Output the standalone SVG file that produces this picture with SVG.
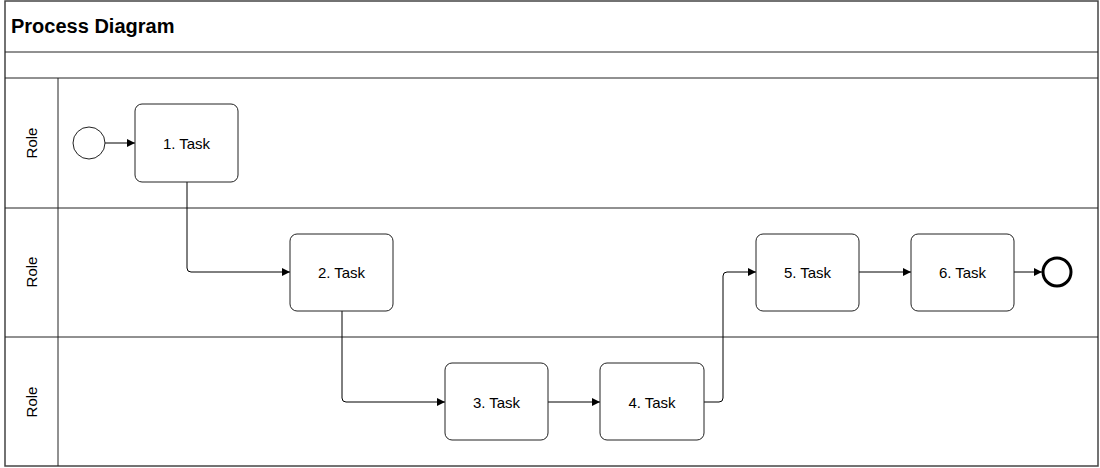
<svg xmlns="http://www.w3.org/2000/svg" width="1100" height="468" viewBox="0 0 1100 468">
<style>
.frame{fill:none;stroke:#222;stroke-width:1}
.outer{fill:#fff;stroke:#444;stroke-width:1.5}
.task{fill:#fff;stroke:#222;stroke-width:1}
.lbl{font-family:Arial,"Liberation Sans",sans-serif;font-size:15px;fill:#000;text-anchor:middle;dominant-baseline:central}
.conn{fill:none;stroke:#000;stroke-width:1;marker-end:url(#arr)}
</style>
<defs>
<marker id="arr" viewBox="0 0 10 10" refX="10" refY="5" markerWidth="8" markerHeight="8" markerUnits="userSpaceOnUse" orient="auto">
<path d="M0,0 L10,5 L0,10 z" fill="#000"/>
</marker>
</defs>
<rect width="1100" height="468" fill="#fff"/>
<g id="pool">
<rect class="outer" x="5" y="1" width="1093" height="465"/>
<line class="frame" x1="5" y1="52" x2="1098" y2="52"/>
<line class="frame" x1="5" y1="78" x2="1098" y2="78"/>
<line class="frame" x1="5" y1="208" x2="1098" y2="208"/>
<line class="frame" x1="5" y1="337" x2="1098" y2="337"/>
<line class="frame" x1="58" y1="78" x2="58" y2="466"/>
<text x="11" y="26" font-family="Arial,'Liberation Sans',sans-serif" font-size="20" font-weight="bold" dominant-baseline="central">Process Diagram</text>
</g>
<g id="lane1"><text class="lbl" transform="translate(31,143) rotate(-90)" x="0" y="0">Role</text></g>
<g id="lane2"><text class="lbl" transform="translate(31,272) rotate(-90)" x="0" y="0">Role</text></g>
<g id="lane3"><text class="lbl" transform="translate(31,402) rotate(-90)" x="0" y="0">Role</text></g>
<g id="connectors">
<path class="conn" d="M105,143 H135"/>
<path class="conn" d="M187,182 V268 Q187,272 191,272 H290"/>
<path class="conn" d="M342,311 V398 Q342,402 346,402 H445"/>
<path class="conn" d="M548,402 H600"/>
<path class="conn" d="M704,402 H719 Q723,402 723,398 V276 Q723,272 727,272 H756"/>
<path class="conn" d="M859,272 H911"/>
<path class="conn" d="M1014,272 H1042"/>
</g>
<g id="start"><circle cx="89" cy="143" r="16" fill="#fff" stroke="#222" stroke-width="1"/></g>
<g id="task1"><rect class="task" x="135" y="104" width="103" height="78" rx="7"/><text class="lbl" x="186.5" y="143">1. Task</text></g>
<g id="task2"><rect class="task" x="290" y="234" width="103" height="77" rx="7"/><text class="lbl" x="341.5" y="272">2. Task</text></g>
<g id="task3"><rect class="task" x="445" y="363" width="103" height="77" rx="7"/><text class="lbl" x="496.5" y="402">3. Task</text></g>
<g id="task4"><rect class="task" x="600" y="363" width="104" height="77" rx="7"/><text class="lbl" x="652" y="402">4. Task</text></g>
<g id="task5"><rect class="task" x="756" y="234" width="103" height="77" rx="7"/><text class="lbl" x="807.5" y="272">5. Task</text></g>
<g id="task6"><rect class="task" x="911" y="234" width="103" height="77" rx="7"/><text class="lbl" x="962.5" y="272">6. Task</text></g>
<g id="end"><circle cx="1057" cy="272" r="14" fill="#fff" stroke="#000" stroke-width="3"/></g>
</svg>
